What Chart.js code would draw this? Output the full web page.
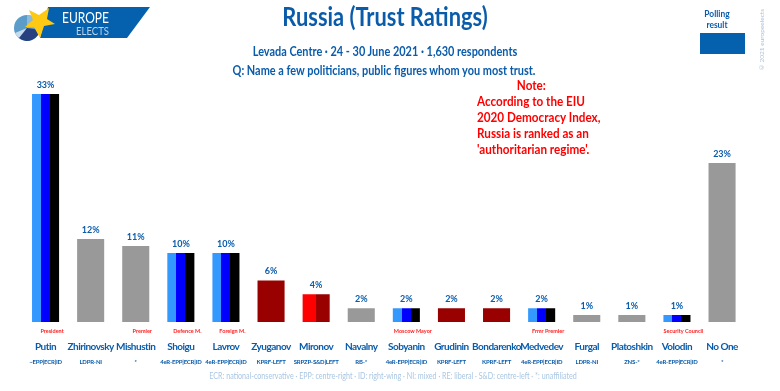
<!DOCTYPE html>
<html>
<head>
  <meta charset="utf-8" />
  <script src="https://cdn.jsdelivr.net/npm/chart.js@4.4.1/dist/chart.umd.min.js"></script>
  <style>
    body { margin: 0; background: #fff; font-family: 'Lato', sans-serif; color: #0a5cab; overflow: hidden; }
    #wrap { position: relative; width: 780px; height: 391px; }
    #chart { position: absolute; left: 0; top: 0; }
    .t { position: absolute; white-space: nowrap; line-height: 1; }
    .c { transform: translateX(-50%) scaleX(.84); }
    #title { left: 385px; top: 3px; font-size: 26px; font-weight: 700; }
    #sub { left: 385px; top: 45px; font-size: 13px; font-weight: 700; }
    #question { left: 384px; top: 64px; font-size: 13px; font-weight: 700; }
    #note { left: 477px; top: 77px; font-size: 13px; font-weight: 700; color: #f00; line-height: 16px; white-space: pre; transform: scaleX(.9); transform-origin: left; }
    #legend { left: 717px; top: 8px; font-size: 10px; font-weight: 700; line-height: 11px; text-align: center; }
    #swatch { position: absolute; left: 700px; top: 33px; width: 45px; height: 21px; background: #0560ae; }
    #credit { left: 759px; top: 9px; font-size: 6.5px; color: #a9bfd6; writing-mode: vertical-rl; transform: rotate(180deg); }
    #foot { left: 393px; top: 372px; font-size: 8.5px; color: #a9c6e2; }
    #logo { position: absolute; left: 0; top: 0; }
  </style>
</head>
<body>
<div id="wrap">
  <canvas id="chart" width="780" height="391"></canvas>
  <svg id="logo" width="160" height="45">
    <polygon points="48,7 150,7 127,38 40,38" fill="#0560ae"/>
    <circle cx="27" cy="28" r="13" fill="#5b9cc9"/>
    <path d="M27 28 L27 15 A13 13 0 0 1 40 28 Z" fill="#8dbbdd"/>
    <path d="M27 28 L15 33 A13 13 0 0 0 20 39 Z" fill="#c4dcec"/>
    <path d="M27 28 L40 30 A13 13 0 0 1 19 38 Z" fill="#27407f"/>
    <polygon points="29,10 39,15 49,8 47,19 55,24 44,26 40,38 34,27 25,27 33,20" fill="#fdc912"/>
    <text x="62" y="23" font-family="Lato" font-size="15" fill="#fff" textLength="47" lengthAdjust="spacingAndGlyphs">EUROPE</text>
    <text x="76" y="35" font-family="Lato" font-size="10.5" fill="#b9d4ea" textLength="33" lengthAdjust="spacingAndGlyphs">ELECTS</text>
  </svg>
  <div class="t c" id="title">Russia (Trust Ratings)</div>
  <div class="t c" id="sub">Levada Centre · 24 - 30 June 2021 · 1,630 respondents</div>
  <div class="t c" id="question">Q: Name a few politicians, public figures whom you most trust.</div>
  <div class="t" id="note">              Note:
According to the EIU
2020 Democracy Index,
Russia is ranked as an
'authoritarian regime'.</div>
  <div class="t c" id="legend">Polling<br>result</div>
  <div id="swatch"></div>
  <div class="t" id="credit">© 2021 europeelects</div>
  <div class="t c" id="foot">ECR: national-conservative · EPP: centre-right · ID: right-wing · NI: mixed · RE: liberal · S&amp;D: centre-left · *: unaffiliated</div>
</div>

<script>
/* ---------- Data ---------- */
const names = ['Putin','Zhirinovsky','Mishustin','Shoigu','Lavrov','Zyuganov','Mironov','Navalny','Sobyanin','Grudinin','Bondarenko','Medvedev','Furgal','Platoshkin','Volodin','No One'];
const values = [33,12,11,10,10,6,4,2,2,2,2,2,1,1,1,23];
const parties = ['~EPP|ECR|ID','LDPR-NI','*','4eR-EPP|ECR|ID','4eR-EPP|ECR|ID','KPRF-LEFT','SRPZP-S&D|LEFT','RB-*','4eR-EPP|ECR|ID','KPRF-LEFT','KPRF-LEFT','4eR-EPP|ECR|ID','LDPR-NI','ZNS-*','4eR-EPP|ECR|ID','*'];
const roles = ['President','','Premier','Defence M.','Foreign M.','','','','Moscow Mayor','','','Frmr Premier','','','Security Council',''];

/* ---------- Colours ---------- */
const BLUE = '#0a5cab';
const ER = ['#3399ff','#0000ff','#000000'];
const GREY = ['#999999'];
const KPRF = ['#990000'];
const stripes = [ER,GREY,GREY,ER,ER,KPRF,['#ff0000','#990000'],GREY,ER,KPRF,KPRF,ER,GREY,GREY,ER,GREY];

function stripeFill(c){
  const list = stripes[c.dataIndex];
  if(!list) return GREY[0];
  if(list.length === 1) return list[0];
  const sc = c.chart.scales.x;
  const mid = sc ? sc.getPixelForValue(c.dataIndex) : NaN;
  if(!Number.isFinite(mid)) return list[0];
  const w = sc.width / names.length * 0.6;
  const g = c.chart.ctx.createLinearGradient(mid - w/2, 0, mid + w/2, 0);
  list.forEach((col,i) => {
    g.addColorStop(i / list.length, col);
    g.addColorStop((i + 1) / list.length, col);
  });
  return g;
}

/* value labels above the bars, roles and parties round the names */
const extras = {
  id: 'extras',
  beforeDraw(chart){ chart.ctx.letterSpacing = '-0.5px'; },
  afterDraw(chart){
    const ctx = chart.ctx, x = chart.scales.x, y = chart.scales.y;
    ctx.save();
    ctx.textAlign = 'center';
    ctx.textBaseline = 'middle';
    names.forEach((n,i) => {
      const px = x.getPixelForValue(i);
      ctx.fillStyle = BLUE;
      ctx.letterSpacing = '0px';
      ctx.font = '700 9px Lato';
      ctx.fillText(values[i] + '%', px, y.getPixelForValue(values[i]) - 9);
      ctx.letterSpacing = '-0.2px';
      ctx.font = '700 6px Lato';
      ctx.fillText(parties[i], px, 362);
      ctx.letterSpacing = '0px';
      ctx.fillStyle = '#ff2020';
      ctx.font = '700 5.5px Lato';
      ctx.fillText(roles[i], px + 6.5, 331);
    });
    ctx.restore();
  }
};

new Chart(document.getElementById('chart'), {
  type: 'bar',
  data: { labels: names, datasets: [{ data: values, backgroundColor: stripeFill, barPercentage: 0.6, categoryPercentage: 1 }] },
  options: {
    responsive: false,
    animation: false,
    layout: { padding: { left: 23, right: 35.4, top: 94, bottom: 0 } },
    plugins: { legend: { display: false }, title: { display: false }, tooltip: { enabled: false } },
    scales: {
      y: { display: false, min: 0, max: 33 },
      x: {
        grid: { display: false }, border: { display: false },
        afterFit(s){ s.height = 69; },
        ticks: { color: BLUE, autoSkip: false, maxRotation: 0, minRotation: 0, padding: 11, font: { family: 'Lato', size: 10, weight: '700' } }
      }
    }
  },
  plugins: [extras]
});
</script>
</body>
</html>
